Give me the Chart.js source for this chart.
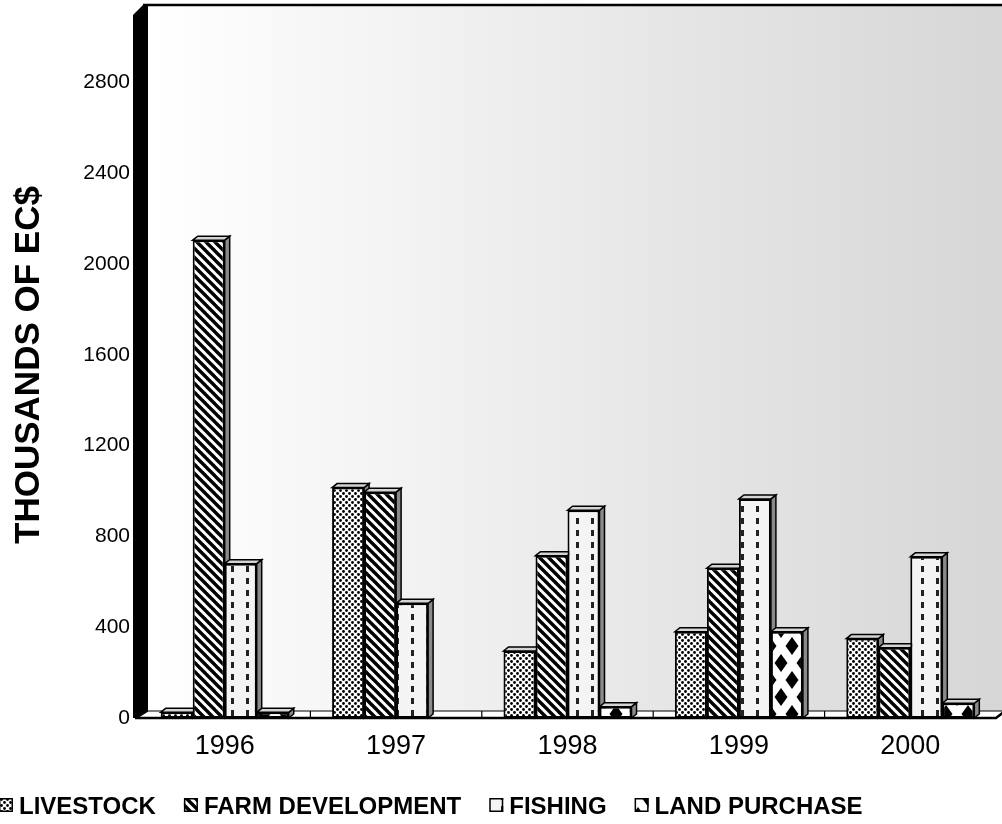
<!DOCTYPE html>
<html>
<head>
<meta charset="utf-8">
<script src="https://cdn.jsdelivr.net/npm/chart.js@4.4.1/dist/chart.umd.min.js"></script>
<style>
  html, body { margin: 0; padding: 0; background: #fff; }
</style>
</head>
<body>
<canvas id="chart" width="1002" height="824"></canvas>
<script>
// ---- data ----
const years = ['1996', '1997', '1998', '1999', '2000'];
const seriesNames = ['LIVESTOCK', 'FARM DEVELOPMENT', 'FISHING', 'LAND PURCHASE'];
const livestock = [25, 1015, 295, 380, 350];
const farmDevelopment = [2105, 995, 715, 660, 310];
const fishing = [680, 505, 915, 965, 710];
const landPurchase = [25, null, 50, 380, 65];
const yTicks = [0, 400, 800, 1200, 1600, 2000, 2400, 2800];
const yMax = 3110;

const FONT = '"Liberation Sans", Arial, sans-serif';
const canvas = document.getElementById('chart');
const mainCtx = canvas.getContext('2d');

// ---- fill patterns ----
function makePattern(w, h, draw) {
  const c = document.createElement('canvas');
  c.width = w;
  c.height = h;
  const g = c.getContext('2d');
  draw(g, w, h);
  return mainCtx.createPattern(c, 'repeat');
}

const dots = makePattern(6, 6, (g, w, h) => {
  g.fillStyle = '#fff';
  g.fillRect(0, 0, w, h);
  g.fillStyle = '#000';
  for (const [cx, cy] of [[1.5, 1.5], [4.5, 4.5]]) {
    g.beginPath();
    g.arc(cx, cy, 1.4, 0, Math.PI * 2);
    g.fill();
  }
});

const stripes = makePattern(9, 9, (g, w, h) => {
  g.fillStyle = '#fff';
  g.fillRect(0, 0, w, h);
  g.strokeStyle = '#000';
  g.lineWidth = 3.4;
  for (const k of [-9, 0, 9]) {
    g.beginPath();
    g.moveTo(-2, -2 + k);
    g.lineTo(w + 2, h + 2 + k);
    g.stroke();
  }
});

const dashes = makePattern(15, 12, (g, w, h) => {
  g.fillStyle = '#f4f4f4';
  g.fillRect(0, 0, w, h);
  g.fillStyle = '#222';
  g.fillRect(6, 2, 3, 6);
});

const diamonds = makePattern(22, 34, (g, w, h) => {
  g.fillStyle = '#fff';
  g.fillRect(0, 0, w, h);
  g.fillStyle = '#000';
  const centres = [[w / 2, h / 2], [0, 0], [w, 0], [0, h], [w, h]];
  centres.forEach(([cx, cy]) => {
    g.beginPath();
    g.moveTo(cx, cy - 9);
    g.lineTo(cx + 6.5, cy);
    g.lineTo(cx, cy + 9);
    g.lineTo(cx - 6.5, cy);
    g.closePath();
    g.fill();
  });
});

// ---- 3D frame: back wall, left wall, floor ----
const WALL_DX = 9, WALL_DY = 7;
const frame3d = {
  id: 'frame3d',
  beforeDraw(chart) {
    const { ctx, chartArea } = chart;
    const { left, right, top, bottom } = chartArea;
    ctx.save();

    // back wall with grey gradient
    const grad = ctx.createLinearGradient(left + WALL_DX, 0, right + WALL_DX, 0);
    grad.addColorStop(0, '#ffffff');
    grad.addColorStop(1, '#d6d6d6');
    ctx.fillStyle = grad;
    ctx.fillRect(left + WALL_DX, top - WALL_DY, right - left, bottom - top);

    // top edge
    ctx.strokeStyle = '#000';
    ctx.lineWidth = 2.5;
    ctx.beginPath();
    ctx.moveTo(left + 4, top - WALL_DY);
    ctx.lineTo(right + WALL_DX + 5, top - WALL_DY);
    ctx.stroke();

    // black left wall
    ctx.fillStyle = '#000';
    ctx.beginPath();
    ctx.moveTo(left - 6, top + 3);
    ctx.lineTo(left + 4, top - WALL_DY);
    ctx.lineTo(left + WALL_DX, top - WALL_DY);
    ctx.lineTo(left + WALL_DX, bottom - WALL_DY);
    ctx.lineTo(left - 2, bottom);
    ctx.lineTo(left - 6, bottom);
    ctx.closePath();
    ctx.fill();

    // floor
    ctx.fillStyle = '#fff';
    ctx.beginPath();
    ctx.moveTo(left - 2, bottom);
    ctx.lineTo(left + WALL_DX, bottom - WALL_DY);
    ctx.lineTo(right + WALL_DX, bottom - WALL_DY);
    ctx.lineTo(right, bottom);
    ctx.closePath();
    ctx.fill();
    ctx.lineWidth = 1.2;
    ctx.stroke();

    // category separators on the floor
    const xs = chart.scales.x;
    for (let i = 1; i < years.length; i++) {
      const px = (xs.getPixelForValue(i - 1) + xs.getPixelForValue(i)) / 2;
      ctx.beginPath();
      ctx.moveTo(px, bottom - WALL_DY);
      ctx.lineTo(px, bottom);
      ctx.stroke();
    }

    // thick front edge
    ctx.lineWidth = 2.5;
    ctx.beginPath();
    ctx.moveTo(left - 4, bottom);
    ctx.lineTo(right, bottom);
    ctx.lineTo(right + WALL_DX, bottom - WALL_DY);
    ctx.stroke();

    ctx.restore();
  }
};

// ---- top and side faces of the bars ----
const BAR_DX = 5, BAR_DY = 4;
const barDepth = {
  id: 'barDepth',
  beforeDatasetsDraw(chart) {
    const ctx = chart.ctx;
    ctx.save();
    ctx.strokeStyle = '#000';
    ctx.lineWidth = 1.5;
    chart.data.datasets.forEach((ds, di) => {
      const meta = chart.getDatasetMeta(di);
      meta.data.forEach((bar, i) => {
        if (ds.data[i] === null || !Number.isFinite(bar.y)) return;
        const l = bar.x - bar.width / 2;
        const r = bar.x + bar.width / 2;
        const t = bar.y;
        const b = bar.base;
        // side
        ctx.fillStyle = '#8a8a8a';
        ctx.beginPath();
        ctx.moveTo(r, t);
        ctx.lineTo(r + BAR_DX, t - BAR_DY);
        ctx.lineTo(r + BAR_DX, b - BAR_DY);
        ctx.lineTo(r, b);
        ctx.closePath();
        ctx.fill();
        ctx.stroke();
        // top
        ctx.fillStyle = '#d4d4d4';
        ctx.beginPath();
        ctx.moveTo(l, t);
        ctx.lineTo(l + BAR_DX, t - BAR_DY);
        ctx.lineTo(r + BAR_DX, t - BAR_DY);
        ctx.lineTo(r, t);
        ctx.closePath();
        ctx.fill();
        ctx.stroke();
      });
    });
    ctx.restore();
  }
};

// ---- legend row under the chart ----
const bottomLegend = {
  id: 'bottomLegend',
  afterDraw(chart) {
    const ctx = chart.ctx;
    ctx.save();
    ctx.font = 'bold 24px ' + FONT;
    ctx.textBaseline = 'alphabetic';
    const y = 814;
    let x = -1;
    chart.data.datasets.forEach(ds => {
      ctx.fillStyle = ds.backgroundColor;
      ctx.fillRect(x, y - 16, 14, 14);
      ctx.strokeStyle = '#000';
      ctx.lineWidth = 1.5;
      ctx.strokeRect(x + 0.75, y - 15.25, 12.5, 12.5);
      ctx.fillStyle = '#000';
      ctx.fillText(ds.label, x + 20, y);
      x += 20 + ctx.measureText(ds.label).width + 28;
    });
    ctx.restore();
  }
};

function barSet(label, data, fill) {
  return {
    label: label,
    data: data,
    backgroundColor: fill,
    borderColor: '#000',
    borderWidth: 2,
    borderSkipped: false,
    categoryPercentage: 0.747,
    barPercentage: 1.0
  };
}

new Chart(mainCtx, {
  type: 'bar',
  data: {
    labels: years,
    datasets: [
      barSet(seriesNames[0], livestock, dots),
      barSet(seriesNames[1], farmDevelopment, stripes),
      barSet(seriesNames[2], fishing, dashes),
      barSet(seriesNames[3], landPurchase, diamonds)
    ]
  },
  options: {
    responsive: false,
    animation: false,
    layout: { padding: { top: 12, right: 6, left: 0, bottom: 56 } },
    plugins: {
      legend: { display: false },
      tooltip: { enabled: false }
    },
    scales: {
      x: {
        grid: { display: false, drawTicks: false },
        border: { display: false },
        ticks: {
          color: '#000',
          padding: 12,
          font: { size: 27, family: FONT }
        },
        afterFit(scale) { scale.height = 50; }
      },
      y: {
        min: 0,
        max: yMax,
        grid: { display: false, drawTicks: false },
        border: { display: false },
        afterBuildTicks(scale) {
          scale.ticks = yTicks.map(v => ({ value: v }));
        },
        ticks: {
          color: '#000',
          padding: 9,
          font: { size: 21, family: FONT },
          callback: v => String(v)
        },
        title: {
          display: true,
          text: 'THOUSANDS OF EC$',
          color: '#000',
          padding: { top: 8, bottom: 0 },
          font: { size: 35, weight: 'bold', family: FONT }
        },
        afterFit(scale) {
          scale.width = 139;
          // keep the plot top where the frame starts
          scale.paddingTop = 0;
          scale.paddingBottom = 0;
        }
      }
    }
  },
  plugins: [frame3d, barDepth, bottomLegend]
});
</script>
</body>
</html>
